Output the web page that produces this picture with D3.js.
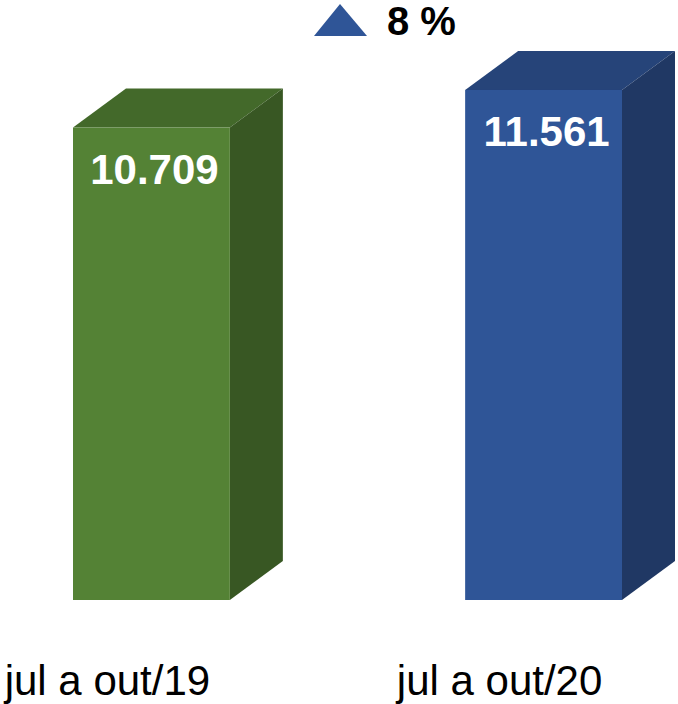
<!DOCTYPE html>
<html><head><meta charset="utf-8">
<script src="https://cdn.jsdelivr.net/npm/d3@7"></script>
<style>html,body{margin:0;padding:0;background:#fff;}</style>
</head><body>
<svg id="c" width="678" height="704"></svg>
<script>
const categories = ["jul a out/19", "jul a out/20"];
const values = [10709, 11561];
const valueLabels = ["10.709", "11.561"];
const changeLabel = "8 %";
const frontColors = ["#548235", "#2F5597"];
const topColors = ["#43692a", "#264479"];
const sideColors = ["#385723", "#203864"];

const svg = d3.select("#c");
const font = "Liberation Sans, Arial, Helvetica, sans-serif";
const x = d3.scaleBand().domain(categories).range([73, 622]).paddingInner(0.6).paddingOuter(0);
const y = d3.scaleLinear().domain([0, 12000]).range([600, 70.6]);
const dx = 53, dy = 39;

const g = svg.selectAll("g.bar").data(categories).enter().append("g").attr("class", "bar");
g.each(function(c, i) {
  const s = d3.select(this);
  const x0 = x(c), x1 = x(c) + x.bandwidth(), yt = y(values[i]), yb = y(0);
  // top face
  s.append("path").attr("fill", topColors[i])
    .attr("d", `M${x0},${yt}L${x0+dx},${yt-dy}L${x1+dx},${yt-dy}L${x1},${yt}Z`);
  // side face
  s.append("path").attr("fill", sideColors[i])
    .attr("d", `M${x1},${yt}L${x1+dx},${yt-dy}L${x1+dx},${yb-dy}L${x1},${yb}Z`);
  // front face
  s.append("rect").attr("x", x0).attr("y", yt).attr("width", x.bandwidth()).attr("height", yb - yt)
    .attr("fill", frontColors[i]);
  // value label
  s.append("text").attr("x", x0 + x.bandwidth()/2 + 3).attr("y", yt + 56)
    .attr("text-anchor", "middle").attr("fill", "#fff")
    .attr("font-family", font).attr("font-weight", "bold").attr("font-size", 42)
    .text(valueLabels[i]);
  // category label
  s.append("text").attr("x", x0 + x.bandwidth()/2 - 44).attr("y", 695)
    .attr("text-anchor", "middle").attr("fill", "#000")
    .attr("font-family", font).attr("font-size", 42)
    .text(c);
});

// change indicator
svg.append("path").attr("fill", "#2F5597")
  .attr("d", "M340,4L367,36L314,36Z");
svg.append("text").attr("x", 387).attr("y", 35)
  .attr("font-family", font).attr("font-weight", "bold").attr("font-size", 40)
  .attr("fill", "#000").text(changeLabel);
</script>
</body></html>
